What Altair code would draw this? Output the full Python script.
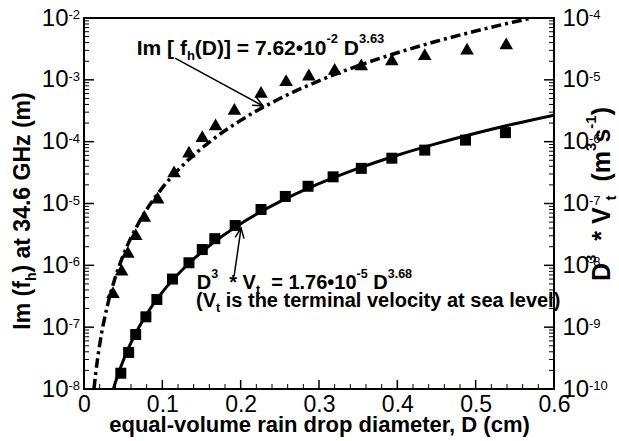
import altair as alt
import pandas as pd

W, H = 470, 371
FONT = "Liberation Sans"

# ---------------- data ----------------
# Im(f_h) at 34.6 GHz (m)  -> left axis (triangles)
tri_D = [0.037, 0.048, 0.056, 0.066, 0.077, 0.094, 0.115, 0.134, 0.151, 0.168,
         0.192, 0.226, 0.258, 0.287, 0.320, 0.354, 0.393, 0.435, 0.489, 0.539]
tri_v = [3.7e-7, 8.5e-7, 1.65e-6, 3.2e-6, 6.3e-6, 1.24e-5, 3.3e-5, 6.9e-5, 1.23e-4, 1.9e-4,
         3.4e-4, 6.4e-4, 9.9e-4, 1.22e-3, 1.5e-3, 1.78e-3, 2.15e-3, 2.6e-3, 3.2e-3, 3.9e-3]

# D^3 * Vt (m^3 s^-1) -> right axis (squares)
sq_D = [0.047, 0.057, 0.066, 0.079, 0.093, 0.113, 0.134, 0.151, 0.167, 0.193,
        0.226, 0.257, 0.286, 0.318, 0.354, 0.393, 0.435, 0.487, 0.538]
sq_w = [1.8e-10, 3.9e-10, 7.6e-10, 1.47e-9, 2.8e-9, 6.0e-9, 1.1e-8, 1.8e-8, 2.7e-8, 4.4e-8,
        8.0e-8, 1.3e-7, 1.9e-7, 2.7e-7, 3.7e-7, 5.4e-7, 7.3e-7, 1.06e-6, 1.4e-6]

# dash-dot fit curve (left axis)
dd_D = [0.0127, 0.015, 0.02, 0.03, 0.04, 0.05, 0.07, 0.1, 0.13, 0.16,
        0.2, 0.25, 0.3, 0.35, 0.4, 0.45, 0.5, 0.55, 0.5715]
dd_v = [1.0e-8, 1.82e-8, 5.19e-8, 2.26e-7, 6.41e-7, 1.44e-6, 4.89e-6, 1.79e-5, 4.63e-5, 9.84e-5,
        2.21e-4, 4.98e-4, 9.64e-4, 1.69e-3, 2.74e-3, 4.2e-3, 6.15e-3, 8.71e-3, 1.0e-2]

# solid fit curve (right axis)
sl_D = [0.0375, 0.04, 0.045, 0.05, 0.06, 0.07, 0.08, 0.1, 0.13, 0.16, 0.2,
        0.25, 0.3, 0.35, 0.4, 0.45, 0.5, 0.55, 0.6]
sl_w = [1.0e-10, 1.26e-10, 1.95e-10, 2.87e-10, 5.61e-10, 9.9e-10, 1.62e-9, 3.68e-9, 9.66e-9, 2.07e-8, 4.71e-8,
        1.07e-7, 2.09e-7, 3.69e-7, 6.04e-7, 9.3e-7, 1.37e-6, 1.95e-6, 2.69e-6]

# axis tick values / labels
x_ticks = [0, 0.1, 0.2, 0.3, 0.4, 0.5, 0.6]
x_minor = [0.02, 0.04, 0.06, 0.08, 0.12, 0.14, 0.16, 0.18, 0.22, 0.24, 0.26, 0.28,
           0.32, 0.34, 0.36, 0.38, 0.42, 0.44, 0.46, 0.48, 0.52, 0.54, 0.56, 0.58]
left_exp = [-8, -7, -6, -5, -4, -3, -2]
right_exp = [-10, -9, -8, -7, -6, -5, -4]
mantissas = [2, 3, 4, 5, 6, 7, 8, 9]

# annotation anchors (data units, left axis)
ann_D = [0.0673, 0.1439, 0.143]
ann_v = [2.52e-3, 4.12e-7, 2.11e-7]
arrow_D = [0.1162, 0.1916]
arrow_v = [2.25e-3, 6.68e-7]
arrow_D2 = [0.2286, 0.2005]
arrow_v2 = [3.77e-4, 4.0e-6]

# ---------------- helpers ----------------
BW = {' ': 278, '(': 333, ')': 333, '*': 389, '-': 333, '.': 278, ',': 278, '=': 584,
      '[': 333, ']': 333, '\u2022': 350, 'D': 722, 'G': 778, 'H': 722, 'I': 278, 'V': 667,
      'a': 556, 'c': 556, 'e': 556, 'f': 333, 'h': 611, 'i': 278, 'l': 278, 'm': 889,
      'n': 611, 'o': 611, 'r': 389, 's': 556, 't': 333, 'v': 556, 'y': 556, 'z': 500}


def tw(s, size):
    return sum(BW.get(c, 556) for c in s) * size / 1000.0


one = pd.DataFrame({"k": [0]})


def rich(pieces, df, x, y, main, script, angle=0, center=False):
    total = sum(tw(t, main if k == 'n' else script) for t, k in pieces)
    cum = -total / 2 if center else 0.0
    out = []
    for t, k in pieces:
        fs = main if k == 'n' else script
        dy = 0 if k == 'n' else (-0.55 * main if k == 'sup' else 0.25 * main)
        lead = len(t) - len(t.lstrip(' '))
        start = cum + tw(' ' * lead, fs)
        shown = t.strip(' ')
        props = dict(align='left', baseline='alphabetic', dx=start, dy=dy, fontSize=fs,
                     fontWeight='bold', font=FONT, color='black')
        if angle:
            props['angle'] = angle
        if shown:
            out.append(alt.Chart(df).mark_text(**props).encode(x=x, y=y, text=alt.value(shown)))
        cum += tw(t, fs)
    return out


# ---------------- scales / axes ----------------
xs = alt.Scale(domain=[0, 0.6], nice=False, zero=False)
xax = alt.Axis(values=x_ticks, labelExpr="datum.value == 0 ? '0' : format(datum.value, '.1f')",
               ticks=False, tickSize=0, domain=False, grid=False, labelFontSize=23, labelFont=FONT,
               labelPadding=4, labelColor='black', labelFlush=False, labelOverlap=False,
               title='equal-volume rain drop diameter, D (cm)', titleFontSize=22, titleFont=FONT,
               titleFontWeight='bold', titleY=42, titleBaseline='alphabetic', titleColor='black')
X = alt.X('D:Q', scale=xs, axis=xax)

yls = alt.Scale(type='log', domain=[1e-8, 1e-2], nice=False)
ylax = alt.Axis(values=[10.0 ** e for e in left_exp], labelExpr="'10'", ticks=False, tickSize=0,
                domain=False, grid=False, labelFontSize=24, labelFont=FONT, labelPadding=16,
                labelColor='black', labelBaseline='middle', labelFlush=False, labelOverlap=False,
                title=None)
YL = alt.Y('v:Q', scale=yls, axis=ylax)

yrs = alt.Scale(type='log', domain=[1e-10, 1e-4], nice=False)
yrax = alt.Axis(orient='right', values=[10.0 ** e for e in right_exp], labelExpr="'10'", ticks=False,
                tickSize=0, domain=False, grid=False, labelFontSize=24, labelFont=FONT, labelPadding=8,
                labelAlign='left', labelColor='black', labelBaseline='middle', labelFlush=False,
                labelOverlap=False, title=None)
YR = alt.Y('w:Q', scale=yrs, axis=yrax)

# ---------------- tables ----------------
tri = pd.DataFrame({'D': tri_D, 'v': tri_v})
sq = pd.DataFrame({'D': sq_D, 'w': sq_w})
dd = pd.DataFrame({'D': dd_D, 'v': dd_v})
sl = pd.DataFrame({'D': sl_D, 'w': sl_w})
xmaj = pd.DataFrame({'D': x_ticks[1:-1]})
xmin = pd.DataFrame({'D': x_minor})
lmaj = pd.DataFrame({'v': [10.0 ** e for e in left_exp[1:-1]]})
lmin = pd.DataFrame({'v': [m * 10.0 ** e for e in left_exp[:-1] for m in mantissas]})
rmaj = pd.DataFrame({'w': [10.0 ** e for e in right_exp[1:-1]]})
rmin = pd.DataFrame({'w': [m * 10.0 ** e for e in right_exp[:-1] for m in mantissas]})
lexp = pd.DataFrame({'v': [10.0 ** e for e in left_exp], 't': [str(e) for e in left_exp]})
rexp = pd.DataFrame({'w': [10.0 ** e for e in right_exp], 't': [str(e) for e in right_exp]})
ann = [pd.DataFrame({'D': [d], 'v': [v]}) for d, v in zip(ann_D, ann_v)]
arr = pd.DataFrame({'D': arrow_D, 'v': arrow_v, 'D2': arrow_D2, 'v2': arrow_v2})
tips = [pd.DataFrame({'D': [d], 'v': [v]}) for d, v in zip(arrow_D2, arrow_v2)]

ARROW = "M-1,-0.45L0,0L-1,0.45"

# ---------------- left group ----------------
left = [
    alt.Chart(dd).mark_line(color='black', strokeWidth=3.5, strokeDash=[10, 4, 3, 4],
                            interpolate='monotone', clip=True).encode(x=X, y=YL),
    alt.Chart(tri).mark_point(shape='triangle-up', filled=True, size=185, color='black',
                              opacity=1).encode(x=X, y=YL),
    alt.Chart(xmin).mark_rule(color='black', strokeWidth=1).encode(x=X, y=alt.value(H), y2=alt.value(H - 5)),
    alt.Chart(xmaj).mark_rule(color='black', strokeWidth=1.5).encode(x=X, y=alt.value(H), y2=alt.value(H - 9)),
    alt.Chart(lmin).mark_rule(color='black', strokeWidth=1).encode(y=YL, x=alt.value(0), x2=alt.value(5)),
    alt.Chart(lmaj).mark_rule(color='black', strokeWidth=1.5).encode(y=YL, x=alt.value(0), x2=alt.value(10)),
    alt.Chart(lexp).mark_text(align='right', baseline='alphabetic', dx=-4, dy=1, fontSize=13,
                              font=FONT, color='black').encode(x=alt.value(0), y=YL, text='t:N'),
    alt.Chart(arr).mark_rule(color='black', strokeWidth=1.5).encode(x=X, y=YL, x2='D2:Q', y2='v2:Q'),
    alt.Chart(tips[0]).mark_point(shape=ARROW, filled=False, color='black', strokeWidth=1.5, size=400,
                                  opacity=1, angle=28.6).encode(x=X, y=YL),
    alt.Chart(tips[1]).mark_point(shape=ARROW, filled=False, color='black', strokeWidth=1.5, size=400,
                                  opacity=1, angle=278.3).encode(x=X, y=YL),
]
left += rich([("Im [ f", 'n'), ("h", 'sub'), ("(D)] = 7.62\u202210", 'n'), ("-2", 'sup'),
              (" D", 'n'), ("3.63", 'sup')], ann[0], X, YL, 21, 13)
left += rich([("D", 'n'), ("3", 'sup'), ("  * V", 'n'), ("t", 'sub'), ("  = 1.76\u202210", 'n'),
              ("-5", 'sup'), (" D", 'n'), ("3.68", 'sup')], ann[1], X, YL, 20, 12.5)
left += rich([("(V", 'n'), ("t", 'sub'), (" is the terminal velocity at sea level)", 'n')],
             ann[2], X, YL, 20, 12.5)
left += rich([("Im (f", 'n'), ("h", 'sub'), (") at 34.6 GHz (m)", 'n')], one,
             alt.value(-54), alt.value(193), 23, 14, angle=270, center=True)
left += rich([("D", 'n'), ("3", 'sup'), ("  *  V", 'n'), ("t", 'sub'), ("  (m", 'n'), ("3", 'sup'),
              ("s", 'n'), ("-1", 'sup'), (")", 'n')], one,
             alt.value(W + 56), alt.value(176), 25, 15, angle=270, center=True)

# ---------------- right group ----------------
right = [
    alt.Chart(sl).mark_line(color='black', strokeWidth=3, interpolate='monotone', clip=True).encode(x=X, y=YR),
    alt.Chart(sq).mark_point(shape='square', filled=True, size=121, color='black', opacity=1).encode(x=X, y=YR),
    alt.Chart(rmin).mark_rule(color='black', strokeWidth=1).encode(y=YR, x=alt.value(W), x2=alt.value(W - 5)),
    alt.Chart(rmaj).mark_rule(color='black', strokeWidth=1.5).encode(y=YR, x=alt.value(W), x2=alt.value(W - 10)),
    alt.Chart(rexp).mark_text(align='left', baseline='alphabetic', dx=35, dy=1, fontSize=13,
                              font=FONT, color='black').encode(x=alt.value(W), y=YR, text='t:N'),
]

chart = alt.layer(alt.layer(*left), alt.layer(*right)).resolve_scale(y='independent').properties(
    width=W, height=H,
    padding={"left": 84, "top": 18, "right": 65, "bottom": 52},
    autosize=alt.AutoSizeParams(type='none'),
    background='white',
).configure_view(stroke='black', strokeWidth=2)

chart.save("out.html", embed_options={"renderer": "svg", "actions": False})
